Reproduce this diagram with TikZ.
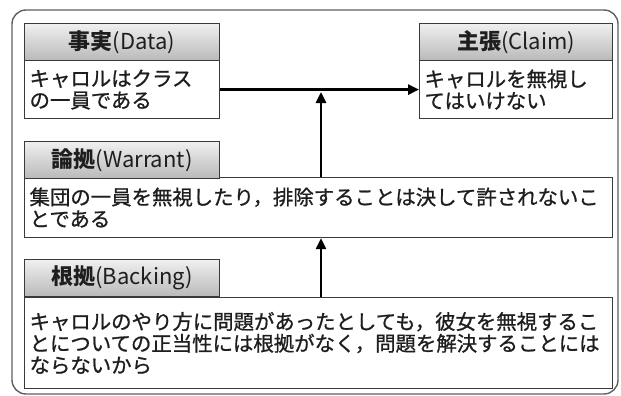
\documentclass[tikz,border=0pt]{standalone}
\usepackage{fontspec}
\setmainfont{Noto Sans CJK JP}
\newfontface\bodyface{Noto Sans CJK JP}[FakeBold=0.9]
\usetikzlibrary{arrows.meta}
\definecolor{boxline}{HTML}{3A3A3A}
\definecolor{txt}{HTML}{1E1E1E}
\tikzset{
  frame/.style={draw=gray!75!black, line width=1.4pt, rounded corners=14pt},
  headbox/.style={draw=boxline, line width=1.2pt, top color=gray!12, bottom color=gray!55,
    anchor=north west, inner sep=0pt, minimum height=37pt, text=txt,
    font=\fontsize{22}{24}\selectfont},
  bodybox/.style={draw=boxline, line width=1.2pt, fill=white, anchor=north west,
    inner ysep=0pt, inner xsep=5pt, align=left, text=txt,
    font=\bodyface\fontsize{20.4}{21.8}\selectfont},
  link/.style={draw=black, line width=2.6pt, -{Triangle[length=11pt,width=10pt]}}
}
\begin{document}
\begin{tikzpicture}[x=1pt,y=-1pt]
\useasboundingbox[fill=white] (0,0) rectangle (621,396);
\draw[frame] (12,10) rectangle (618,394);

% Data
\node[headbox, minimum width=195pt] (datahead) at (24,23) {\textbf{事実}(Data)};
\node[bodybox, minimum width=195pt, text width=185pt, minimum height=58pt] (databody) at (24,60)
  {キャロルはクラス\\の一員である};

% Claim
\node[headbox, minimum width=193pt] (claimhead) at (419,23) {\textbf{主張}(Claim)};
\node[bodybox, minimum width=193pt, text width=183pt, minimum height=58pt] (claimbody) at (419,60)
  {キャロルを無視し\\てはいけない};

% Warrant
\node[bodybox, minimum width=588pt, text width=578pt, minimum height=60pt] (warbody) at (24,177)
  {集団の一員を無視したり，排除することは決して許されないこ\\とである};
\node[headbox, minimum width=195pt] (warhead) at (24,141) {\textbf{論拠}(Warrant)};

% Backing
\node[bodybox, minimum width=588pt, text width=578pt, minimum height=91pt] (backbody) at (24,297)
  {キャロルのやり方に問題があったとしても，彼女を無視するこ\\とについての正当性には根拠がなく，問題を解決することには\\ならないから};
\node[headbox, minimum width=195pt] (backhead) at (24,259) {\textbf{根拠}(Backing)};

% connectors
\coordinate (joint) at (321,92);
\draw[link] (databody.east) -- (claimbody.west);
\draw[link] (warbody.north -| joint) -- (joint);
\draw[link] (backbody.north -| joint) -- (warbody.south -| joint);
\end{tikzpicture}
\end{document}
